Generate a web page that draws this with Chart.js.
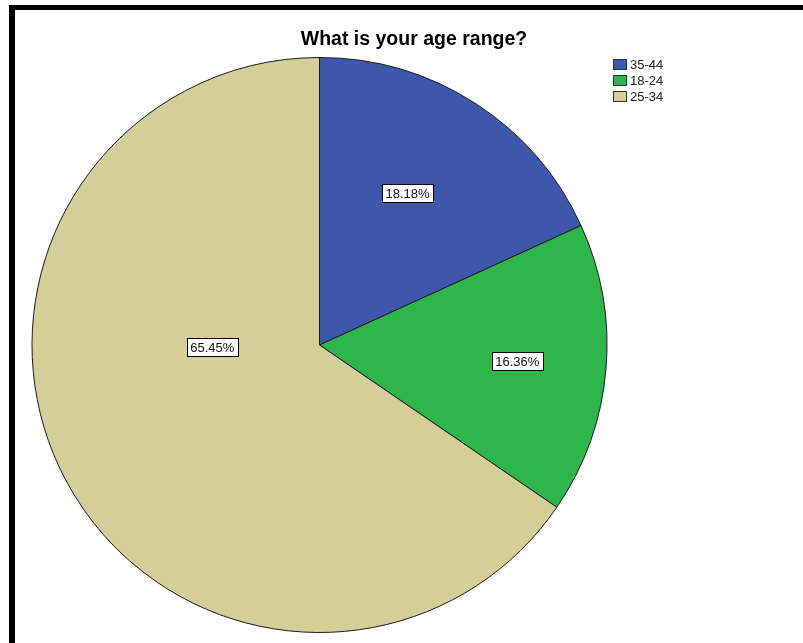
<!DOCTYPE html>
<html>
<head>
<meta charset="utf-8">
<script src="https://cdn.jsdelivr.net/npm/chart.js@4.4.0/dist/chart.umd.min.js"></script>
<style>
  html, body { margin: 0; padding: 0; background: #fff; overflow: hidden; }
  #wrap { position: relative; width: 803px; height: 643px; }
  #frame {
    position: absolute; left: 9px; top: 5px; width: 820px; height: 700px;
    border-top: 5px solid #000; border-left: 6px solid #000; pointer-events: none;
  }
  canvas { position: absolute; left: 0; top: 0; }
</style>
</head>
<body>
<div id="wrap">
  <canvas id="ageChart" width="803" height="643"></canvas>
  <div id="frame"></div>
</div>
<script>
const chartTitle = 'What is your age range?';
const ageRanges = ['35-44', '18-24', '25-34'];
const counts = [10, 9, 36];
const sliceColors = ['#3d57aa', '#2eb54b', '#d4cf98'];
// where each % label sits: fraction along the slice angle, fraction of radius
const labelSpots = [
  { t: 0.46, r: 0.61 },
  { t: 0.495, r: 0.69 },
  { t: 0.613, r: 0.373 }
];

const total = counts.reduce((a, b) => a + b, 0);
const percents = counts.map(c => (c / total * 100).toFixed(2) + '%');

const FONT = '"Liberation Sans", Arial, sans-serif';

const spssDecor = {
  id: 'spssDecor',
  afterDatasetsDraw(chart) {
    const ctx = chart.ctx;
    const arcs = chart.getDatasetMeta(0).data;
    ctx.save();
    ctx.font = '13px ' + FONT;
    ctx.textAlign = 'center';
    ctx.textBaseline = 'middle';
    arcs.forEach((arc, i) => {
      const p = arc.getProps(['x', 'y', 'startAngle', 'endAngle', 'outerRadius'], true);
      const spot = labelSpots[i];
      const a = p.startAngle + spot.t * (p.endAngle - p.startAngle);
      const lx = p.x + Math.cos(a) * spot.r * p.outerRadius;
      const ly = p.y + Math.sin(a) * spot.r * p.outerRadius;
      const txt = percents[i];
      const w = ctx.measureText(txt).width + 7;
      const h = 18;
      ctx.fillStyle = '#fff';
      ctx.fillRect(Math.round(lx - w / 2), Math.round(ly - h / 2), Math.round(w), h);
      ctx.strokeStyle = '#000';
      ctx.lineWidth = 1;
      ctx.strokeRect(Math.round(lx - w / 2) + 0.5, Math.round(ly - h / 2) + 0.5, Math.round(w), h);
      ctx.fillStyle = '#111';
      ctx.fillText(txt, lx, ly + 1);
    });
    ctx.restore();
  },
  afterDraw(chart) {
    const ctx = chart.ctx;
    ctx.save();
    // title
    ctx.font = 'bold 19.5px ' + FONT;
    ctx.fillStyle = '#000';
    ctx.textAlign = 'center';
    ctx.textBaseline = 'alphabetic';
    ctx.fillText(chartTitle, 414, 45);
    // legend
    ctx.font = '13px ' + FONT;
    ctx.textAlign = 'left';
    ctx.textBaseline = 'middle';
    ageRanges.forEach((lab, i) => {
      const y = 59 + i * 16;
      ctx.fillStyle = sliceColors[i];
      ctx.fillRect(613, y, 14, 11);
      ctx.strokeStyle = '#333';
      ctx.lineWidth = 1;
      ctx.strokeRect(613.5, y + 0.5, 13, 10);
      ctx.fillStyle = '#222';
      ctx.fillText(lab, 630, y + 6);
    });
    ctx.restore();
  }
};

new Chart(document.getElementById('ageChart').getContext('2d'), {
  type: 'pie',
  data: {
    labels: ageRanges,
    datasets: [{
      data: counts,
      backgroundColor: sliceColors,
      borderColor: '#1a1a1a',
      borderWidth: 1
    }]
  },
  options: {
    responsive: false,
    animation: false,
    layout: { padding: { left: 31, right: 195, top: 57, bottom: 10 } },
    plugins: {
      legend: { display: false },
      title: { display: false },
      tooltip: { enabled: false }
    }
  },
  plugins: [spssDecor]
});
</script>
</body>
</html>
